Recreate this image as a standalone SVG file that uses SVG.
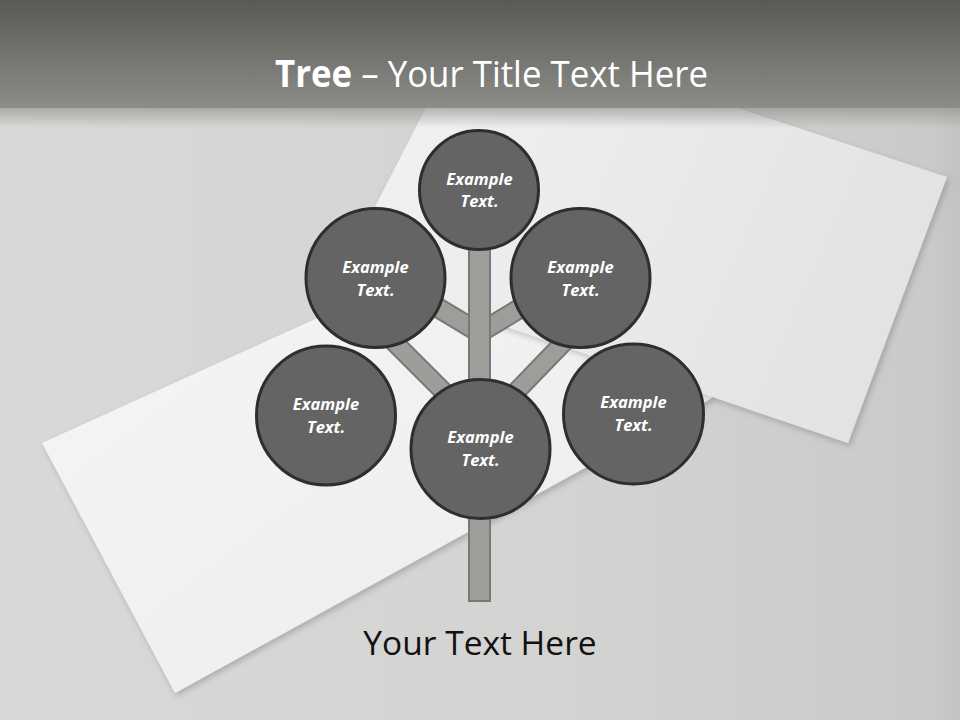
<svg xmlns="http://www.w3.org/2000/svg" width="960" height="720" viewBox="0 0 960 720">
  <defs>
    <linearGradient id="bg" x1="0" y1="0" x2="1" y2="0">
      <stop offset="0" stop-color="#d9d9d7"/>
      <stop offset="0.6" stop-color="#d3d3d1"/>
      <stop offset="0.97" stop-color="#cacac8"/>
      <stop offset="1" stop-color="#c2c2c0"/>
    </linearGradient>
    <linearGradient id="hdr" x1="0" y1="0" x2="0" y2="1">
      <stop offset="0" stop-color="#595a55"/>
      <stop offset="1" stop-color="#8c8d88"/>
    </linearGradient>
    <linearGradient id="hdrShadow" x1="0" y1="0" x2="0" y2="1">
      <stop offset="0" stop-color="#8c8d88" stop-opacity="0.6"/>
      <stop offset="1" stop-color="#8c8d88" stop-opacity="0"/>
    </linearGradient>
    <linearGradient id="paperA" x1="0" y1="0" x2="1" y2="1">
      <stop offset="0" stop-color="#f5f6f7"/>
      <stop offset="1" stop-color="#ebeced"/>
    </linearGradient>
    <linearGradient id="paperB" x1="0" y1="0" x2="1" y2="0.3">
      <stop offset="0" stop-color="#f2f3f4"/>
      <stop offset="1" stop-color="#e2e3e4"/>
    </linearGradient>
    <filter id="shadow" x="-10%" y="-10%" width="120%" height="120%">
      <feDropShadow dx="2" dy="3" stdDeviation="3" flood-color="#000" flood-opacity="0.2"/>
    </filter>
    <style>
      .node circle { fill: #646464; stroke: #2e2e2e; stroke-width: 3; }
      .node text { font-family: "Open Sans", "Liberation Sans", sans-serif; font-size: 16.5px; font-weight: bold; font-style: italic; fill: #ffffff; text-anchor: middle; }
      .trunk { fill: #9d9d99; stroke: #787875; stroke-width: 2; }
      .title { font-family: "Open Sans", "Liberation Sans", sans-serif; fill: #ffffff; }
      .caption { font-family: "Open Sans", "Liberation Sans", sans-serif; font-size: 33.5px; fill: #111111; text-anchor: middle; }
    </style>
  </defs>

  <!-- background -->
  <rect x="0" y="0" width="960" height="720" fill="url(#bg)"/>

  <!-- papers -->
  <polygon points="42,443 175,693 712,398 600,190" fill="url(#paperA)" filter="url(#shadow)"/>
  <polygon points="471,20 947,177 848,443 342,271" fill="url(#paperB)" filter="url(#shadow)"/>

  <!-- header -->
  <rect x="0" y="108" width="960" height="20" fill="url(#hdrShadow)"/>
  <rect x="0" y="0" width="960" height="108" fill="url(#hdr)"/>
  <text class="title" x="491.5" y="87" text-anchor="middle" font-size="37" textLength="433" lengthAdjust="spacingAndGlyphs"><tspan font-weight="bold">Tree</tspan><tspan> – Your Title Text Here</tspan></text>

  <!-- connectors (branches and trunk) -->
  <g id="connectors">
    <rect class="trunk" x="-50" y="-9.5" width="100" height="19" transform="translate(440,309) rotate(31)"/>
    <rect class="trunk" x="-50" y="-9.5" width="100" height="19" transform="translate(519,309) rotate(-31)"/>
    <rect class="trunk" x="-65" y="-9" width="130" height="18" transform="translate(420,368) rotate(45)"/>
    <rect class="trunk" x="-65" y="-9" width="130" height="18" transform="translate(539,368) rotate(-46)"/>
    <rect class="trunk" x="469" y="240" width="21" height="361"/>
  </g>

  <!-- nodes -->
  <g id="node-top" class="node">
    <circle cx="479" cy="190" r="59.5"/>
    <text x="479.5" y="185">Example</text>
    <text x="479.5" y="207">Text.</text>
  </g>
  <g id="node-upper-left" class="node">
    <circle cx="375.5" cy="278" r="69.5"/>
    <text x="375.5" y="273">Example</text>
    <text x="375.5" y="296">Text.</text>
  </g>
  <g id="node-upper-right" class="node">
    <circle cx="580.5" cy="278" r="69.5"/>
    <text x="580.5" y="273">Example</text>
    <text x="580.5" y="296">Text.</text>
  </g>
  <g id="node-lower-left" class="node">
    <circle cx="326" cy="415.5" r="69.5"/>
    <text x="326" y="410">Example</text>
    <text x="326" y="432.5">Text.</text>
  </g>
  <g id="node-lower-right" class="node">
    <circle cx="633.5" cy="414" r="70"/>
    <text x="633.5" y="408">Example</text>
    <text x="633.5" y="431">Text.</text>
  </g>
  <g id="node-center" class="node">
    <circle cx="480.5" cy="449" r="69.5"/>
    <text x="480.5" y="443">Example</text>
    <text x="480.5" y="466">Text.</text>
  </g>

  <text class="caption" x="480" y="655">Your Text Here</text>
</svg>
